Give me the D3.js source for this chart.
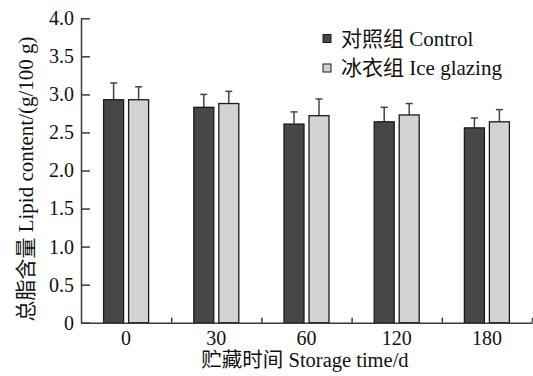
<!DOCTYPE html>
<html>
<head>
<meta charset="utf-8">
<script src="https://cdn.jsdelivr.net/npm/d3@7"></script>
<style>
  html, body { margin: 0; padding: 0; background: #ffffff; }
  svg { display: block; }
</style>
</head>
<body>
<div id="chart"></div>
<script>
(function () {
    "use strict";

    const days = ["0", "30", "60", "120", "180"];
    const seriesNames = ["对照组 Control", "冰衣组 Ice glazing"];
    const controlValues = [2.93, 2.83, 2.61, 2.64, 2.56];
    const controlErrors = [0.22, 0.17, 0.16, 0.19, 0.13];
    const glazingValues = [2.93, 2.88, 2.72, 2.73, 2.64];
    const glazingErrors = [0.17, 0.16, 0.22, 0.15, 0.16];
    const yTicks = [0, 0.5, 1, 1.5, 2, 2.5, 3, 3.5, 4];

    const width = 533;
    const height = 376;
    const left = 81;
    const right = 532;
    const top = 18.3;
    const bottom = 322.7;
    const fills = ["#474747", "#d3d3d3"];
    const axisColor = "#3a3a3a";
    const font = "'Liberation Serif', 'Times New Roman', 'Noto Sans CJK SC', serif";

    const d3 = window.d3;
    const svg = d3.select("#chart")
        .append("svg")
        .attr("width", width)
        .attr("height", height)
        .style("font-family", font);

    const x0 = d3.scaleBand().domain(days).range([left, right]).padding(0);
    const x1 = d3.scaleBand().domain(seriesNames).range([0, 45]).paddingInner(0.2).paddingOuter(0);
    const y = d3.scaleLinear().domain([0, 4]).range([bottom, top]);

    const rows = days.map((day, i) => ({
        day,
        items: [
            { name: seriesNames[0], value: controlValues[i], err: controlErrors[i], fill: fills[0] },
            { name: seriesNames[1], value: glazingValues[i], err: glazingErrors[i], fill: fills[1] }
        ]
    }));

    const groups = svg.selectAll(".group")
        .data(rows)
        .join("g")
        .attr("class", "group")
        .attr("transform", (d) => `translate(${x0(d.day) + (x0.bandwidth() - 45) / 2},0)`);

    // error bars only go upward
    groups.selectAll(".err")
        .data((d) => d.items)
        .join("g")
        .attr("class", "err")
        .each(function (d) {
            const g = d3.select(this);
            const cx = x1(d.name) + x1.bandwidth() / 2;
            g.append("line")
                .attr("x1", cx).attr("x2", cx)
                .attr("y1", y(d.value)).attr("y2", y(d.value + d.err))
                .attr("stroke", "#444").attr("stroke-width", 1.5);
            g.append("line")
                .attr("x1", cx - 3.5).attr("x2", cx + 3.5)
                .attr("y1", y(d.value + d.err)).attr("y2", y(d.value + d.err))
                .attr("stroke", "#444").attr("stroke-width", 1.5);
        });

    groups.selectAll("rect")
        .data((d) => d.items)
        .join("rect")
        .attr("x", (d) => x1(d.name))
        .attr("y", (d) => y(d.value))
        .attr("width", x1.bandwidth())
        .attr("height", (d) => bottom - y(d.value))
        .attr("fill", (d) => d.fill)
        .attr("stroke", "#1a1a1a")
        .attr("stroke-width", 1.3);

    // y axis, ticks pointing inward
    svg.append("g")
        .attr("transform", `translate(${left},0)`)
        .call(d3.axisLeft(y).tickValues(yTicks).tickSizeInner(-9).tickSizeOuter(0).tickPadding(7)
            .tickFormat((v) => (v === 0 ? "0" : d3.format(".1f")(v))))
        .call((g) => g.select(".domain").attr("stroke", axisColor).attr("stroke-width", 1.5))
        .call((g) => g.selectAll(".tick line").attr("stroke", axisColor).attr("stroke-width", 1.5))
        .call((g) => g.selectAll(".tick text").attr("x", -7).attr("fill", "#111")
            .style("font-size", "20px").style("font-family", font));

    // x axis labels
    svg.append("g")
        .attr("transform", `translate(0,${bottom})`)
        .call(d3.axisBottom(x0).tickSize(0).tickPadding(8))
        .call((g) => g.select(".domain").remove())
        .call((g) => g.selectAll(".tick text").attr("fill", "#111")
            .style("font-size", "20px").style("font-family", font));

    // x axis line with short separators between categories
    const sep = d3.scaleLinear().domain([0, days.length]).range([left, right]);
    svg.append("g")
        .attr("transform", `translate(0,${bottom})`)
        .call(d3.axisBottom(sep).tickValues([1, 2, 3, 4, 5]).tickSize(-5).tickSizeOuter(0).tickFormat(""))
        .call((g) => g.select(".domain").attr("stroke", axisColor).attr("stroke-width", 1.5))
        .call((g) => g.selectAll(".tick line").attr("stroke", axisColor).attr("stroke-width", 1.5));

    svg.append("text")
        .attr("x", 305)
        .attr("y", 367)
        .attr("text-anchor", "middle")
        .attr("fill", "#111")
        .style("font-size", "20.5px")
        .text("贮藏时间 Storage time/d");

    svg.append("text")
        .attr("transform", "translate(33,179) rotate(-90)")
        .attr("text-anchor", "middle")
        .attr("fill", "#111")
        .style("font-size", "21px")
        .text("总脂含量 Lipid content/(g/100 g)");

    const legend = svg.append("g").attr("transform", "translate(323,0)");
    seriesNames.forEach((name, i) => {
        const ly = 38.5 + i * 29.5;
        legend.append("rect")
            .attr("x", 0).attr("y", ly - 4)
            .attr("width", 8).attr("height", 8)
            .attr("fill", fills[i])
            .attr("stroke", "#1a1a1a");
        legend.append("text")
            .attr("x", 18).attr("y", ly + 7)
            .attr("fill", "#111")
            .style("font-size", "21px")
            .text(name);
    });
})();
</script>
</body>
</html>
